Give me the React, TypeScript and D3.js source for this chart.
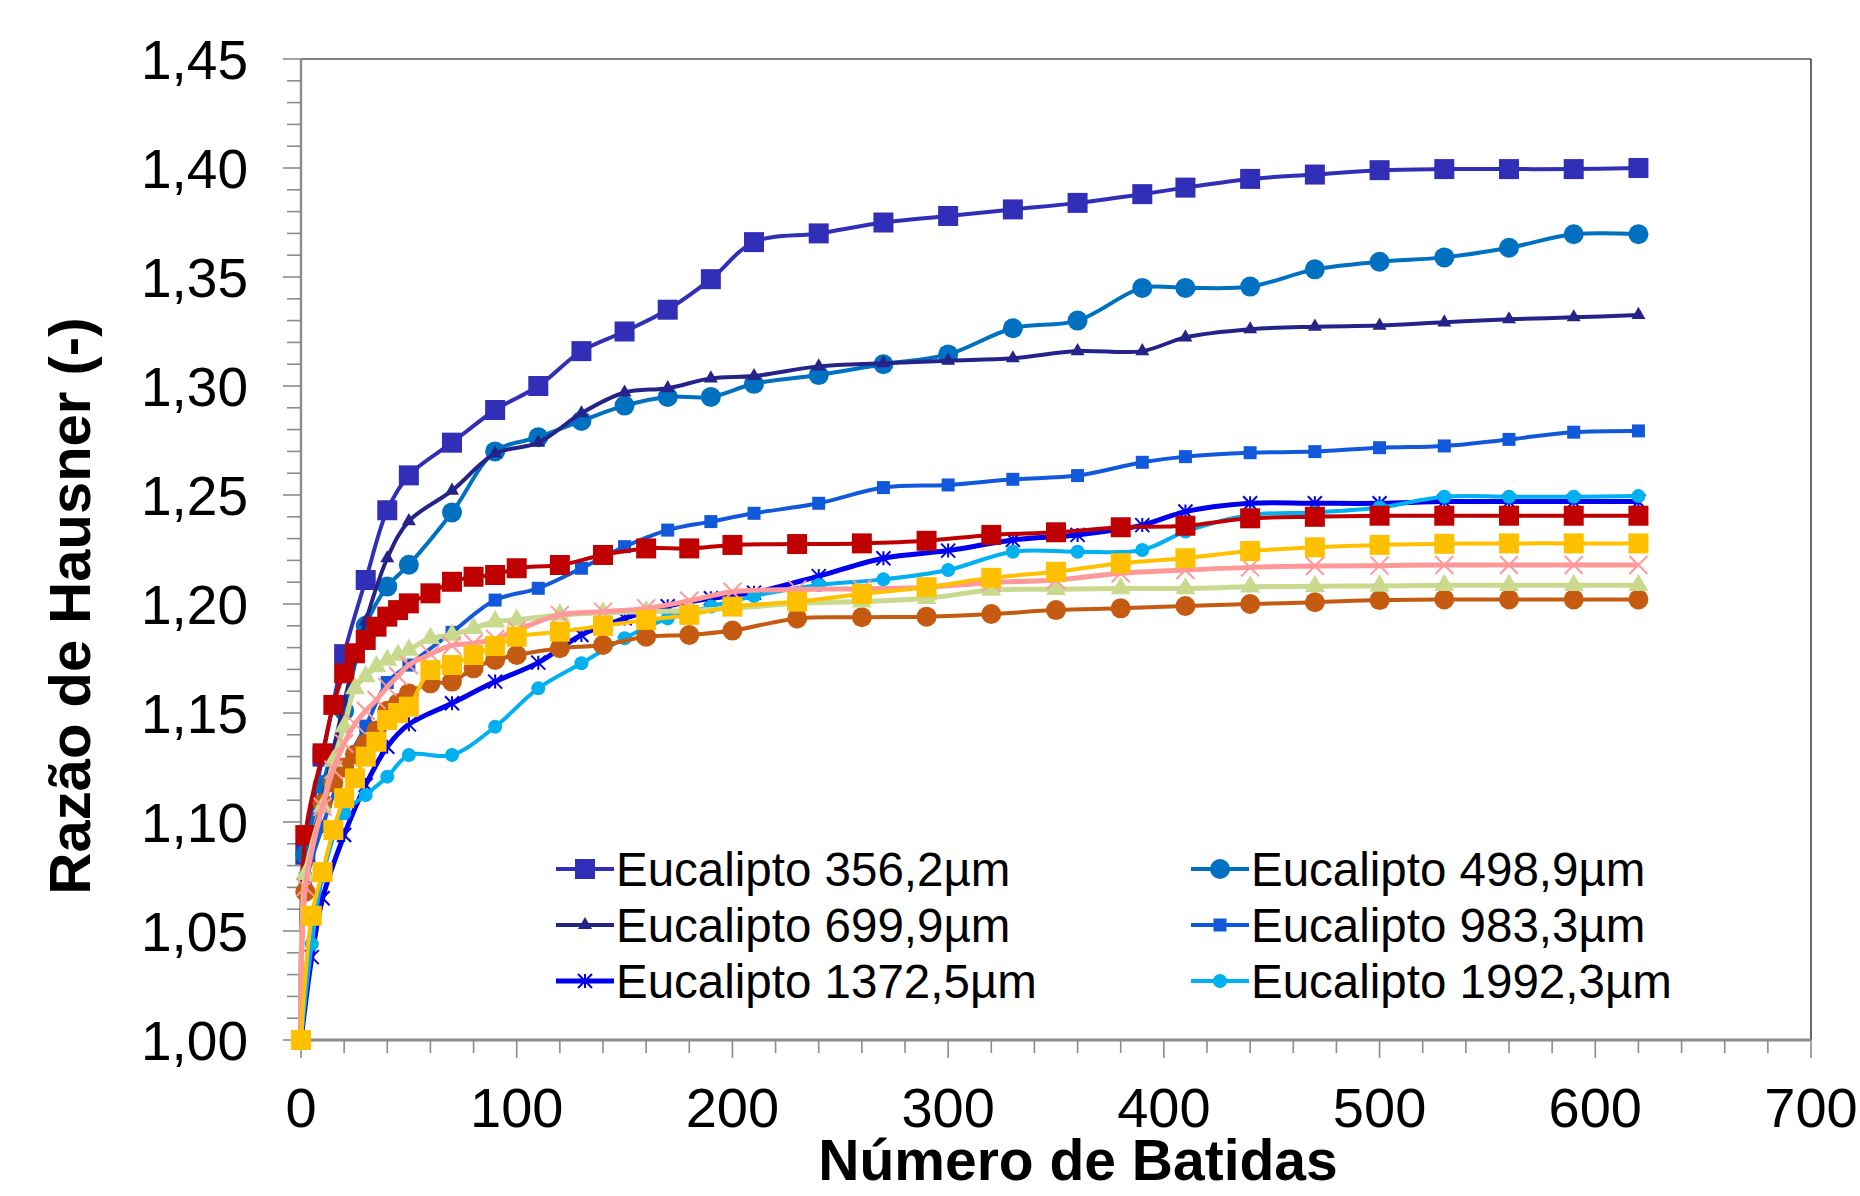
import React from 'react';
import * as d3 from 'd3';

// tap counts (two sampling schemes used in the sheet)
const tapsA = [0, 2, 5, 10, 20, 30, 40, 50, 70, 90, 110, 130, 150, 170, 190, 210, 240, 270, 300, 330, 360, 390, 410, 440, 470, 500, 530, 560, 590, 620];
const tapsB = [0, 2, 5, 10, 15, 20, 25, 30, 35, 40, 45, 50, 60, 70, 80, 90, 100, 120, 140, 160, 180, 200, 230, 260, 290, 320, 350, 380, 410, 440, 470, 500, 530, 560, 590, 620];

const euc356 = [1.0, 1.085, null, 1.13, 1.177, 1.211, 1.243, 1.259, 1.274, 1.289, 1.3, 1.316, 1.325, 1.335, 1.349, 1.366, 1.37, 1.375, 1.378, 1.381, 1.384, 1.388, 1.391, 1.395, 1.397, 1.399, 1.3995, 1.3995, 1.3995, 1.4];
const euc499 = [1.0, 1.085, null, 1.117, 1.151, 1.19, 1.208, 1.218, 1.242, 1.27, 1.2765, 1.284, 1.291, 1.295, 1.295, 1.301, 1.305, 1.31, 1.3145, 1.3265, 1.33, 1.345, 1.345, 1.3456, 1.3535, 1.357, 1.359, 1.3634, 1.3696, 1.3696];
const euc700 = [1.0, 1.078, null, 1.11, 1.155, 1.192, 1.221, 1.238, 1.252, 1.269, 1.274, 1.2875, 1.297, 1.299, 1.3035, 1.3046, 1.309, 1.3104, 1.3116, 1.3127, 1.316, 1.316, 1.3223, 1.326, 1.3272, 1.3277, 1.3292, 1.3306, 1.3315, 1.3326];
const euc983 = [1.0, 1.07, null, 1.098, 1.125, 1.144, 1.164, 1.172, 1.187, 1.2018, 1.2072, 1.2164, 1.2263, 1.2339, 1.2378, 1.2416, 1.2462, 1.2534, 1.2546, 1.2572, 1.2589, 1.265, 1.2676, 1.2694, 1.2699, 1.2717, 1.2725, 1.2755, 1.2788, 1.2794];
const euc1372 = [1.0, null, 1.038, 1.065, 1.094, 1.117, 1.1345, 1.1448, 1.1545, 1.1644, 1.1731, 1.1858, 1.1934, 1.199, 1.2026, 1.2052, 1.2128, 1.221, 1.2245, 1.2294, 1.2317, 1.2362, 1.2424, 1.2462, 1.2462, 1.2462, 1.247, 1.247, 1.247, 1.247];
const euc1992 = [1.0, null, 1.044, 1.075, 1.104, 1.1124, 1.1208, 1.1307, 1.1307, 1.1437, 1.1613, 1.1728, 1.1843, 1.1934, 1.1988, 1.2037, 1.2087, 1.2113, 1.2156, 1.224, 1.224, 1.2248, 1.2332, 1.2408, 1.242, 1.2443, 1.2492, 1.2492, 1.2492, 1.2495];

const redSq = [1.0, 1.094, null, 1.1315, 1.1537, 1.1682, 1.1774, 1.1835, 1.1896, 1.1942, 1.1972, 1.2003, 1.2049, 1.2102, 1.2125, 1.2133, 1.2164, 1.2179, 1.2225, 1.2255, 1.2255, 1.2271, 1.2275, 1.2278, 1.229, 1.2317, 1.2329, 1.2352, 1.2359, 1.2393, 1.24, 1.2405, 1.2405, 1.2405, 1.2405, 1.2405];
const brownCirc = [1.0, 1.068, null, 1.1086, 1.118, 1.125, 1.131, 1.136, 1.142, 1.151, 1.1545, 1.159, 1.1636, 1.1644, 1.1705, 1.1743, 1.1766, 1.1797, 1.1812, 1.185, 1.1858, 1.1878, 1.1934, 1.1939, 1.1942, 1.1954, 1.1972, 1.198, 1.1991, 1.2, 1.2008, 1.2018, 1.2021, 1.2021, 1.2021, 1.2021];
const greenTri = [1.0, 1.076, null, 1.107, 1.128, 1.1437, 1.1613, 1.1667, 1.1713, 1.1743, 1.1766, 1.1789, 1.1843, 1.1858, 1.1889, 1.1919, 1.1927, 1.195, 1.196, 1.1965, 1.197, 1.198, 1.2003, 1.2011, 1.2026, 1.2064, 1.2068, 1.2071, 1.2071, 1.2079, 1.2081, 1.2083, 1.2086, 1.2086, 1.2086, 1.2086];
const pinkX = [1.0, 1.07, null, 1.107, 1.124, 1.136, 1.145, 1.151, 1.156, 1.162, 1.167, 1.172, 1.177, 1.181, 1.182, 1.184, 1.188, 1.195, 1.1965, 1.198, 1.2015, 1.2056, 1.2067, 1.207, 1.2077, 1.2098, 1.211, 1.2141, 1.2156, 1.2168, 1.2174, 1.2176, 1.2179, 1.2179, 1.2179, 1.2179];
const yellowSq = [1.0, null, 1.057, 1.077, 1.0963, 1.1109, 1.12, 1.13, 1.1368, 1.1468, 1.15, 1.1529, 1.1697, 1.172, 1.1766, 1.1807, 1.185, 1.1873, 1.19, 1.1927, 1.195, 1.1988, 1.2011, 1.2046, 1.2077, 1.212, 1.2148, 1.2187, 1.221, 1.2243, 1.226, 1.2271, 1.2276, 1.2278, 1.2278, 1.2278];

const yTicks = [1.0, 1.05, 1.1, 1.15, 1.2, 1.25, 1.3, 1.35, 1.4, 1.45];
const xTicks = [0, 100, 200, 300, 400, 500, 600, 700];

const series = [
  { name: 'Eucalipto 356,2µm', taps: tapsA, values: euc356, color: '#312EB7', marker: 'square', size: 20, width: 4 },
  { name: 'Eucalipto 498,9µm', taps: tapsA, values: euc499, color: '#0070C0', marker: 'circle', size: 20, width: 4 },
  { name: 'Eucalipto 699,9µm', taps: tapsA, values: euc700, color: '#25238A', marker: 'triangle', size: 14, width: 4 },
  { name: 'Eucalipto 983,3µm', taps: tapsA, values: euc983, color: '#1158DB', marker: 'square', size: 13, width: 4 },
  { name: 'Eucalipto 1372,5µm', taps: tapsA, values: euc1372, color: '#0000EE', marker: 'star', size: 14, width: 5 },
  { name: 'Eucalipto 1992,3µm', taps: tapsA, values: euc1992, color: '#00B0F0', marker: 'circle', size: 14, width: 4 },
  { name: '', taps: tapsB, values: redSq, color: '#C00000', marker: 'square', size: 20, width: 4 },
  { name: '', taps: tapsB, values: brownCirc, color: '#C55A11', marker: 'circle', size: 20, width: 4 },
  { name: '', taps: tapsB, values: greenTri, color: '#C9D98E', marker: 'triangle', size: 20, width: 5 },
  { name: '', taps: tapsB, values: pinkX, color: '#FF9999', marker: 'x', size: 18, width: 5 },
  { name: '', taps: tapsB, values: yellowSq, color: '#FFC000', marker: 'square', size: 20, width: 4 },
];

const W = 1860;
const H = 1196;
const left = 301;
const right = 1811;
const top = 59;
const bottom = 1040;
const font = '"Liberation Sans", Arial, sans-serif';

const x = d3.scaleLinear().domain([0, 700]).range([left, right]);
const y = d3.scaleLinear().domain([1.0, 1.45]).range([bottom, top]);

const fmt = (v) => v.toFixed(2).replace('.', ',');

const markerPath = (type, size) => {
  if (type === 'square') return d3.symbol(d3.symbolSquare, size * size)();
  if (type === 'circle') return d3.symbol(d3.symbolCircle, Math.PI * (size / 2) ** 2)();
  if (type === 'triangle') return d3.symbol(d3.symbolTriangle, (Math.sqrt(3) / 4) * size * size)();
  const h = size / 2;
  if (type === 'x') return `M${-h},${-h}L${h},${h}M${-h},${h}L${h},${-h}`;
  // star: X plus vertical bar
  return `M${-h},${-h}L${h},${h}M${-h},${h}L${h},${-h}M0,${-h}L0,${h}`;
};

const Marker = ({ s, cx, cy }) => {
  const stroked = s.marker === 'x' || s.marker === 'star';
  return (
    <path
      d={markerPath(s.marker, s.size)}
      transform={`translate(${cx},${cy})`}
      fill={stroked ? 'none' : s.color}
      stroke={stroked ? s.color : 'none'}
      strokeWidth={stroked ? 2 : 0}
    />
  );
};

const App = () => {
  const line = d3
    .line()
    .x((d) => x(d[0]))
    .y((d) => y(d[1]))
    .curve(d3.curveCatmullRom.alpha(0.5));

  const yMinor = d3.range(0, 46).map((i) => 1 + i * 0.01);
  const xMinor = d3.range(0, 36).map((i) => i * 20);

  const legendRows = [869, 925, 981];
  const legendCols = [556, 1191];

  return (
    <svg width={W} height={H} style={{ position: 'absolute', left: 0, top: 0, background: '#fff' }} fontFamily={font}>
      <rect x={0} y={0} width={W} height={H} fill='#fff' />

      {/* frame */}
      <line x1={left} x2={right} y1={top} y2={top} stroke='#000' strokeWidth={1.2} />
      <line x1={right} x2={right} y1={top} y2={bottom} stroke='#000' strokeWidth={1.2} />

      {/* y axis */}
      {yMinor.map((v, i) => (
        <line key={'ym' + i} x1={i % 5 === 0 ? left - 18 : left - 14} x2={left} y1={y(v)} y2={y(v)} stroke='#8c8c8c' strokeWidth={1.6} />
      ))}
      <line x1={left} x2={left} y1={top} y2={bottom} stroke='#8c8c8c' strokeWidth={2.4} />
      {yTicks.map((v) => (
        <text key={'yt' + v} x={248} y={y(v)} dy='0.36em' textAnchor='end' fontSize={55} fill='#000'>
          {fmt(v)}
        </text>
      ))}

      {/* x axis */}
      {xMinor.map((v, i) => (
        <line key={'xm' + i} x1={x(v)} x2={x(v)} y1={bottom} y2={bottom + (i % 5 === 0 ? 18 : 13)} stroke='#8c8c8c' strokeWidth={1.6} />
      ))}
      <line x1={left} x2={right} y1={bottom} y2={bottom} stroke='#8c8c8c' strokeWidth={3} />
      {xTicks.map((v) => (
        <text key={'xt' + v} x={x(v)} y={1127} textAnchor='middle' fontSize={56} fill='#000'>
          {v}
        </text>
      ))}

      {/* axis titles */}
      <text x={1078} y={1180} textAnchor='middle' fontSize={57} fontWeight='bold' fill='#000'>
        Número de Batidas
      </text>
      <text transform='translate(90,606) rotate(-90)' textAnchor='middle' fontSize={58} fontWeight='bold' fill='#000'>
        Razão de Hausner (-)
      </text>

      {/* series */}
      {series.map((s, si) => {
        const pts = s.taps
          .map((t, i) => [t, s.values[i]])
          .filter((p) => p[1] != null);
        return (
          <g key={'s' + si}>
            <path d={line(pts)} fill='none' stroke={s.color} strokeWidth={s.width} strokeLinejoin='round' />
            {pts.map((p, i) => (
              <Marker key={i} s={s} cx={x(p[0])} cy={y(p[1])} />
            ))}
          </g>
        );
      })}

      {/* legend */}
      {series
        .filter((s) => s.name)
        .map((s, i) => {
          const lx = legendCols[i % 2];
          const ly = legendRows[Math.floor(i / 2)];
          return (
            <g key={'lg' + i}>
              <line x1={lx} x2={lx + 58} y1={ly} y2={ly} stroke={s.color} strokeWidth={s.width} />
              <Marker s={s} cx={lx + 29} cy={ly} />
              <text x={lx + 60} y={ly} dy='0.35em' fontSize={47.5} fill='#000'>
                {s.name}
              </text>
            </g>
          );
        })}
    </svg>
  );
};

export default App;
